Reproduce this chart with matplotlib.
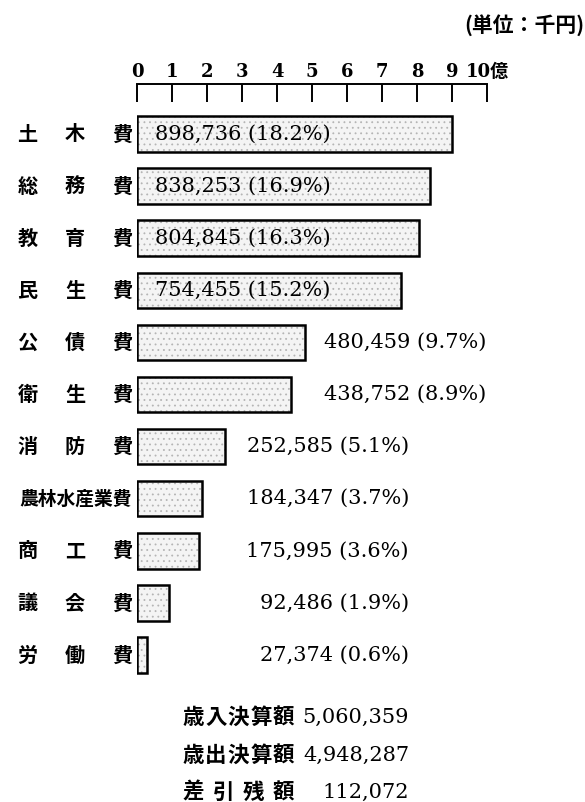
import numpy as np
import matplotlib.pyplot as plt
import matplotlib.transforms as mtransforms

# data (unit: thousand yen)
categories = ['土木費', '総務費', '教育費', '民生費', '公債費', '衛生費',
              '消防費', '農林水産業費', '商工費', '議会費', '労働費']
amounts = [898736, 838253, 804845, 754455, 480459, 438752,
           252585, 184347, 175995, 92486, 27374]
shares = ['18.2', '16.9', '16.3', '15.2', '9.7', '8.9',
          '5.1', '3.7', '3.6', '1.9', '0.6']
tick_vals = [0, 100000, 200000, 300000, 400000, 500000,
             600000, 700000, 800000, 900000, 1000000]
tick_labels = ['0', '1', '2', '3', '4', '5', '6', '7', '8', '9', '10億']
summary_labels = ['歳入決算額', '歳出決算額', '差引残額']
summary_values = [5060359, 4948287, 112072]
unit_text = '(単位：千円)'

CJK = 'Noto Sans CJK JP'
NUM = ['DejaVu Serif', 'Noto Sans CJK JP']
plt.rcParams['font.family'] = [CJK, 'DejaVu Sans']
plt.rcParams['hatch.linewidth'] = 0.6

W, H = 585, 802
fig = plt.figure(figsize=(W / 100, H / 100), dpi=100)


def fx(x):
    return x / W


def fy(y):
    return 1 - y / H


def spread(text, x0, x1, y, size, charw, trans=None):
    # spread the characters of a label evenly between x0 and x1 (pixels)
    n = len(text)
    xs = np.linspace(x0 + charw / 2, x1 - charw / 2, n)
    for ch, x in zip(text, xs):
        if trans is None:
            fig.text(fx(x), fy(y), ch, ha='center', va='center',
                     fontsize=size, fontweight='bold', family=CJK)
        else:
            fig.text(fx(x), y, ch, ha='center', va='center', transform=trans,
                     fontsize=size, fontweight='bold', family=CJK)


# main bar axes
x_left, x_w = 137, 350
row0, step = 134, 52.1
n = len(categories)
top = row0 - step / 2
bot = row0 + step * (n - 1) + step / 2
ax = fig.add_axes([fx(x_left), fy(bot), x_w / W, (bot - top) / H])
ax.set_xlim(0, 1000000)
ax.set_ylim(n - 0.5, -0.5)
ax.axis('off')

pos = np.arange(n)
ax.barh(pos, amounts, height=0.68, left=0, color='#f4f4f4',
        edgecolor='#b5b5b5', linewidth=0, hatch='...')
ax.barh(pos, amounts, height=0.68, left=0, fill=False,
        edgecolor='black', linewidth=1.8)

blend = mtransforms.blended_transform_factory(fig.transFigure, ax.transData)
for i, (cat, v, s) in enumerate(zip(categories, amounts, shares)):
    lab = f'{v:,} ({s}%)'
    if i < 4:
        ax.text(fx(155), i, lab, transform=blend, ha='left', va='center',
                fontsize=15, family=NUM)
    elif i < 6:
        ax.text(fx(486), i, lab, transform=blend, ha='right', va='center',
                fontsize=15, family=NUM)
    else:
        ax.text(fx(409), i, lab, transform=blend, ha='right', va='center',
                fontsize=15, family=NUM)
    if len(cat) > 3:
        ax.text(fx(19), i, cat, transform=blend, ha='left', va='center',
                fontsize=13.5, fontweight='bold', family=CJK)
    else:
        spread(cat, 18, 132, i, 14.5, 19, trans=blend)

# ruler on top
rax = fig.add_axes([fx(x_left), fy(102), x_w / W, 18 / H])
rax.set_xlim(0, 1000000)
rax.set_ylim(0, 1)
for side in ['left', 'right', 'bottom']:
    rax.spines[side].set_visible(False)
rax.spines['top'].set_linewidth(1.4)
rax.set_yticks([])
rax.xaxis.tick_top()
rax.set_xticks(tick_vals)
rax.set_xticklabels(tick_labels, family=NUM, fontsize=13, fontweight='bold')
rax.tick_params(axis='x', direction='in', length=13, width=1.4, pad=2)
rax.patch.set_alpha(0)

# unit
fig.text(fx(584), fy(25), unit_text, ha='right', va='center',
         fontsize=15, fontweight='bold', family=CJK)

# summary
sum_y = [717, 755, 792]
for lab, val, y in zip(summary_labels, summary_values, sum_y):
    spread(lab, 182, 295, y, 15.5, 22.6)
    fig.text(fx(409), fy(y), f'{val:,}', ha='right', va='center',
             fontsize=15, family=NUM)

fig.savefig('out.png', dpi=100)
